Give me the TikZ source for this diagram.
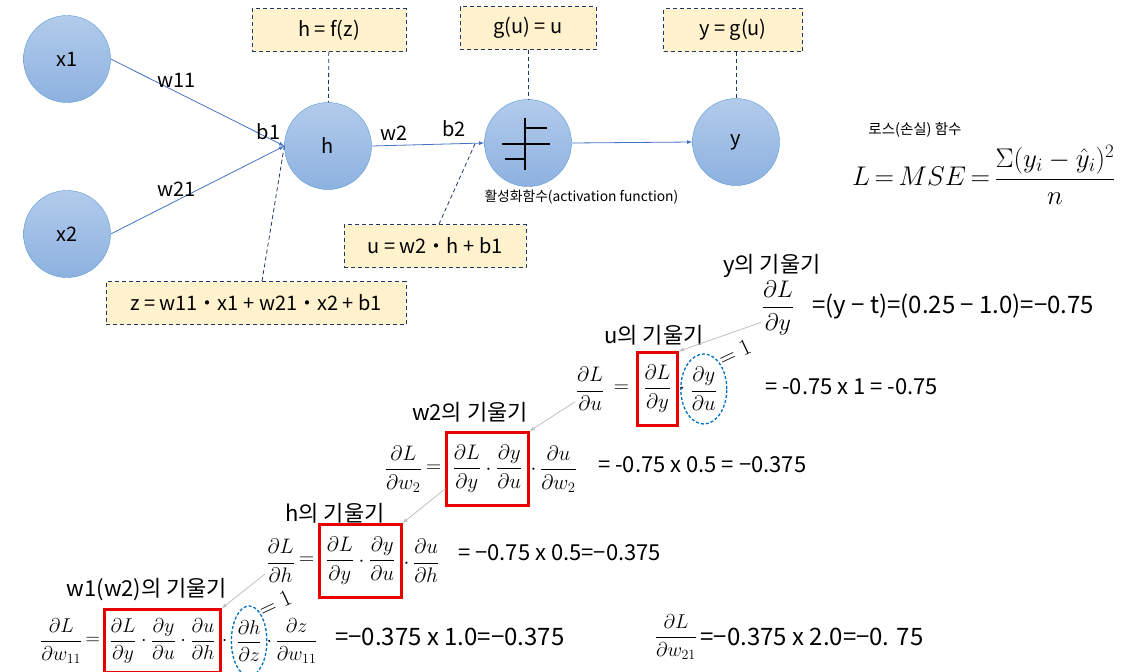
\documentclass[tikz,border=0pt]{standalone}
\usepackage{fix-cm}
\usepackage{amsmath,amssymb}
\usepackage[no-math]{fontspec}
\setmainfont{Noto Sans CJK KR}
\usepackage{tikz}
\usepackage{xcolor}
\usetikzlibrary{shapes,arrows,positioning,calc}
\definecolor{neuronTop}{RGB}{178,203,235}
\definecolor{neuronBottom}{RGB}{141,177,224}
\definecolor{neuronEdge}{RGB}{91,155,213}
\definecolor{linkBlue}{RGB}{68,114,196}
\definecolor{noteFill}{RGB}{255,242,204}
\definecolor{noteEdge}{RGB}{32,56,100}
\definecolor{boxRed}{RGB}{232,0,0}
\definecolor{ovalBlue}{RGB}{0,112,192}
\newcommand{\pfrac}[2]{\dfrac{\partial #1}{\partial #2}}
\newcommand{\txtsize}[1]{\fontsize{#1}{#1}\selectfont}

\begin{document}
\begin{tikzpicture}[x=1pt, y=-1pt,
            neuron/.style={circle, draw=neuronEdge, top color=neuronTop, bottom color=neuronBottom, minimum size=87pt, inner sep=0pt, font=\txtsize{20}},
            note/.style={rectangle, draw=noteEdge, dash pattern=on 4pt off 3pt, line width=0.8pt, fill=noteFill, minimum height=43pt, font=\txtsize{20}},
            guide/.style={draw=noteEdge, dash pattern=on 4pt off 3pt, line width=0.8pt},
            link/.style={-latex, draw=linkBlue, line width=0.8pt},
            wlabel/.style={font=\txtsize{20}, inner sep=1pt},
            back/.style={-latex, draw=black!25, line width=0.8pt},
            gradtitle/.style={font=\txtsize{22}, inner sep=0pt},
            result/.style={font=\txtsize{22}, inner sep=0pt, anchor=west},
            term/.style={inner sep=1pt, font=\txtsize{21}},
            redbox/.style={draw=boxRed, line width=2.4pt, inner xsep=6pt, inner ysep=13pt},
            oval/.style={ellipse, draw=ovalBlue, dash pattern=on 3pt off 2pt, line width=1.3pt, inner sep=0pt},
            one/.style={rotate=25, anchor=south west, inner sep=0pt, font=\txtsize{23}}
        ]
            \useasboundingbox (0,0) rectangle (1128,672);
            \node[neuron] (x1) at (67,59) {x1};
            \node[neuron] (x2) at (67,234) {x2};
            \node[neuron] (h) at (328,146) {h};
            \node[neuron] (act) at (528,143) {};
            \node[neuron] (y) at (736,142) {y};
            \draw[line width=1.8pt] ([shift={(-3,-25)}]act.center) -- ++(0,52);
            \draw[line width=1.8pt] ([shift={(-26,1)}]act.center) -- ++(48,0);
            \draw[line width=1.2pt] ([shift={(-3,-15)}]act.center) -- ++(22,0);
            \draw[line width=1.2pt] ([shift={(-23,16)}]act.center) -- ++(20,0);
            \node[font=\txtsize{13.8}, anchor=north west, inner sep=0pt, yshift=-3pt] (actname) at (act.west |- act.south) {활성화함수(activation function)};

            \draw[link] (x1.east) -- node[wlabel, pos=0.38, above=3pt] (lw11) {w11} (h.west);
            \draw[link] (x2.east) -- node[wlabel, pos=0.38, above=3pt] (lw21) {w21} (h.west);
            \draw[link] (h.east) -- node[wlabel, pos=0.2, above=4pt] (lw2) {w2} node[wlabel, pos=0.73, above=6pt] (lb2) {b2} coordinate[pos=0.92] (uin) (act.west);
            \draw[link] (act.east) -- (y.west);
            \node[wlabel, anchor=south east] (lb1) at ([shift={(-3,-5)}]h.west) {b1};

            \node[note, minimum width=154pt] (nf) at (329,30) {h = f(z)};
            \node[note, minimum width=136pt] (ng) at (528,28) {g(u) = u};
            \node[note, minimum width=139pt] (ny) at (733,30) {y = g(u)};
            \node[note, minimum width=182pt] (nu) at (435,246) {u = w2・h + b1};
            \node[note, minimum width=300pt] (nz) at (256,303) {z = w11・x1 + w21・x2 + b1};
            \draw[guide] (nf) -- (h);
            \draw[guide] (ng) -- (act);
            \draw[guide] (ny.south -| y.north) -- (y.north);
            \draw[guide] ([xshift=4pt]nu.north) -- (uin);
            \draw[guide] ([xshift=6pt]nz.north) -- (h.west);

            \node[font=\txtsize{14.5}] (losstitle) at (915,130) {로스(손실) 함수};
            \node[font=\txtsize{27}, anchor=west, inner sep=0pt] (loss) at (852,175) {$L\,{=}\,MSE\,{=}\,\dfrac{\Sigma(y_i-\hat{y}_i)^2}{n}$};

            \node[gradtitle] (ty) at (772,266) {y의 기울기};
            \node[term, font=\txtsize{24}] (dyL) at (778,308) {$\pfrac{L}{y}$};
            \node[result, font=\txtsize{24}] (dyR) at (812,306) {=(y − t)=(0.25 − 1.0)=−0.75};

            \node[gradtitle] (tu) at (654,335) {u의 기울기};
            \node[term, redbox] (duA) at (657.5,389) {$\pfrac{L}{y}$};
            \node[term, left=6pt of duA] (duEq) {$=$};
            \node[term, left=7pt of duEq] (duL) {$\pfrac{L}{u}$};
            \node[term, right=-1pt of duA] (duDot) {$\cdot$};
            \node[term, oval, minimum width=46pt, minimum height=70pt, right=-6pt of duDot] (duB) {$\pfrac{y}{u}$};
            \node[one] (duOne) at ([shift={(2,3)}]duB.north east) {$=1$};
            \node[result] (duR) at (765,387) {= -0.75 x 1 = -0.75};

            \node[gradtitle] (tw2) at (470,412) {w2의 기울기};
            \node[term, redbox] (dw2A) at (487.5,469) {$\pfrac{L}{y}\cdot\pfrac{y}{u}$};
            \node[term, left=3pt of dw2A] (dw2Eq) {$=$};
            \node[term, left=2pt of dw2Eq] (dw2L) {$\pfrac{L}{w_2}$};
            \node[term, right=0pt of dw2A] (dw2C) {$\cdot\,\pfrac{u}{w_2}$};
            \node[result] (dw2R) at (598,465) {= -0.75 x 0.5 = −0.375};

            \node[gradtitle] (th) at (335,513) {h의 기울기};
            \node[term, redbox] (dhA) at (360.5,561) {$\pfrac{L}{y}\cdot\pfrac{y}{u}$};
            \node[term, left=3pt of dhA] (dhEq) {$=$};
            \node[term, left=2pt of dhEq] (dhL) {$\pfrac{L}{h}$};
            \node[term, right=0pt of dhA] (dhC) {$\cdot\,\pfrac{u}{h}$};
            \node[result] (dhR) at (458,553) {= −0.75 x 0.5=−0.375};

            \node[gradtitle] (tw1) at (147,590) {w1(w2)의 기울기};
            \node[term, redbox, font=\txtsize{20}, inner xsep=5pt, inner ysep=9pt] (dwA) at (162.5,641) {$\pfrac{L}{y}\cdot\pfrac{y}{u}\cdot\pfrac{u}{h}$};
            \node[term, font=\txtsize{20}, left=2pt of dwA] (dwEq) {$=$};
            \node[term, font=\txtsize{20}, left=1pt of dwEq] (dwL) {$\pfrac{L}{w_{11}}$};
            \node[term, font=\txtsize{20}, right=-1pt of dwA] (dwDot) {$\cdot$};
            \node[term, oval, font=\txtsize{20}, minimum width=33pt, minimum height=70pt, right=2pt of dwDot] (dwB) {$\pfrac{h}{z}$};
            \node[one] (dwOne) at ([shift={(1,2)}]dwB.north east) {$=1$};
            \node[term, font=\txtsize{20}, right=-2pt of dwB] (dwC) {$\cdot\,\pfrac{z}{w_{11}}$};
            \node[result, font=\txtsize{24}] (dwR) at (335,637) {=−0.375 x 1.0=−0.375};
            \node[term, font=\txtsize{20}] (dw21L) at (676,637) {$\pfrac{L}{w_{21}}$};
            \node[result, font=\txtsize{24}, right=2pt of dw21L] (dw21R) {=−0.375 x 2.0=−0. 75};

            \draw[back] (dyL.220) -- (duA.north east);
            \draw[back] (duL.220) -- (dw2A.north east);
            \draw[back] (dw2A.205) -- (dhA.north east);
            \draw[back] (dhL.220) -- (dwA.north east);
        \end{tikzpicture}
\end{document}
